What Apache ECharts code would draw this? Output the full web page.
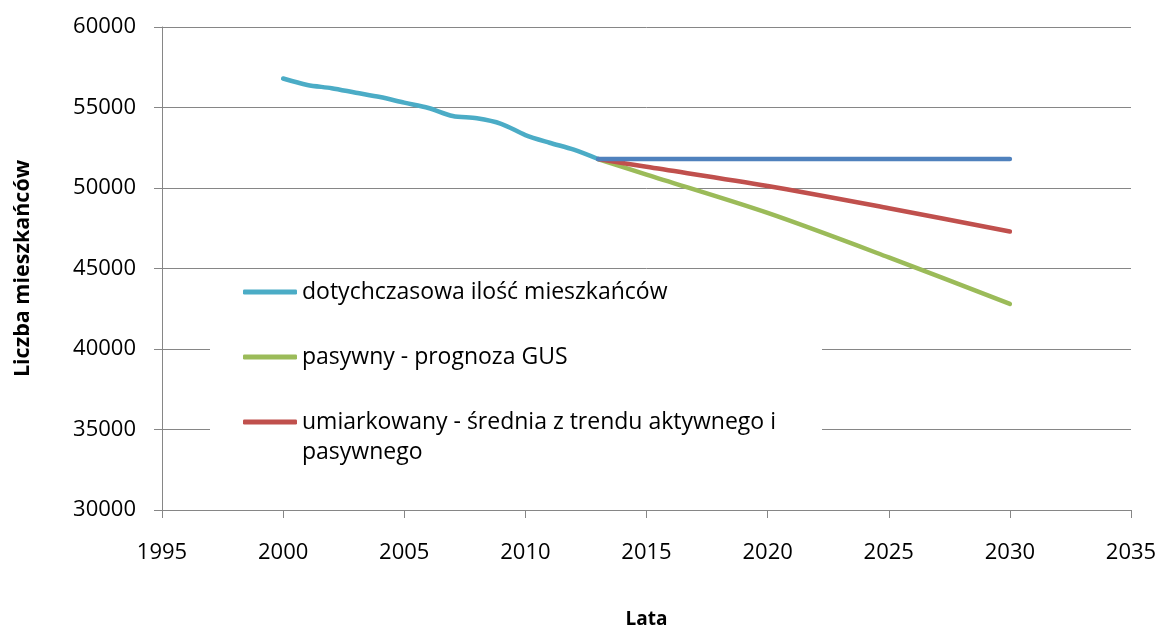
<!DOCTYPE html>
<html>
<head>
<meta charset="utf-8">
<title>Liczba mieszkańców</title>
<script src="https://cdn.jsdelivr.net/npm/echarts@6/dist/echarts.min.js"></script>
<style>
html, body { margin: 0; padding: 0; background: #fff; }
#chart { width: 1159px; height: 628px; }
</style>
</head>
<body>
<div id="chart"></div>
<script>
// lata i wartosci
var histYears = [2000, 2001, 2002, 2003, 2004, 2005, 2006, 2007, 2008, 2009, 2010, 2011, 2012, 2013];
var histValues = [56800, 56400, 56200, 55920, 55650, 55300, 54970, 54470, 54330, 53990, 53290, 52810, 52380, 51800];

var progYears = [2013, 2015, 2020, 2025, 2030];
var activeValues = [51800, 51800, 51800, 51800, 51800];
var passiveValues = [51800, 50830, 48450, 45690, 42800];
var moderateValues = [51800, 51315, 50125, 48745, 47300];

var seriesNames = [
    'dotychczasowa ilość mieszkańców',
    'pasywny - prognoza GUS',
    'umiarkowany - średnia z trendu aktywnego i pasywnego',
    'aktywny'
];
// tekst legendy: ostatni wpis zawija sie do drugiej linii
var legendLabels = [
    'dotychczasowa ilość mieszkańców',
    'pasywny - prognoza GUS',
    'umiarkowany - średnia z trendu aktywnego i'
];
var legendWrap = 'pasywnego';

function pairs(xs, ys) {
    return xs.map(function (x, i) { return [x, ys[i]]; });
}
function plain(v) {
    return String(v);
}

var FONT = '"Open Sans", sans-serif';
var myChart = echarts.init(document.getElementById('chart'));

myChart.setOption({
    animation: false,
    backgroundColor: '#fff',
    grid: {
        left: 162,
        right: 28,
        top: 27,
        bottom: 118,
        containLabel: false,
        outerBoundsMode: 'none'
    },
    graphic: [
        {
            type: 'rect',
            z: 1,
            shape: { x: 210, y: 273, width: 612, height: 197 },
            style: { fill: '#fff' }
        },
        {
            type: 'text',
            z: 6,
            left: 302,
            top: 441,
            style: { text: legendWrap, font: '23px ' + FONT, fill: '#000' }
        }
    ],
    legend: {
        orient: 'vertical',
        left: 243,
        top: 277,
        z: 5,
        padding: 0,
        itemGap: 35,
        itemWidth: 54,
        itemHeight: 5,
        icon: 'roundRect',
        data: seriesNames.slice(0, 3),
        formatter: function (name) {
            return legendLabels[seriesNames.indexOf(name)];
        },
        textStyle: {
            fontFamily: FONT,
            fontSize: 23,
            color: '#000',
            lineHeight: 30
        }
    },
    xAxis: {
        type: 'value',
        min: 1995,
        max: 2035,
        interval: 5,
        name: 'Lata',
        nameLocation: 'middle',
        nameGap: 100,
        nameTextStyle: { fontFamily: FONT, fontSize: 19, fontWeight: 'bold', color: '#000' },
        axisLine: { lineStyle: { color: '#868686', width: 1 } },
        axisTick: { show: true, inside: false, length: 8, lineStyle: { color: '#868686' } },
        axisLabel: { fontFamily: FONT, fontSize: 22, color: '#000', margin: 32, formatter: plain },
        splitLine: { show: false }
    },
    yAxis: {
        type: 'value',
        min: 30000,
        max: 60000,
        interval: 5000,
        name: 'Liczba mieszkańców',
        nameLocation: 'middle',
        nameGap: 128,
        nameTextStyle: { fontFamily: FONT, fontSize: 21.5, fontWeight: 'bold', color: '#000' },
        axisLine: { show: true, lineStyle: { color: '#868686', width: 1 } },
        axisTick: { show: true, inside: false, length: 8, lineStyle: { color: '#868686' } },
        axisLabel: { fontFamily: FONT, fontSize: 22, color: '#000', margin: 26, formatter: plain },
        splitLine: { show: true, lineStyle: { color: '#868686', width: 1 } }
    },
    series: [
        {
            name: seriesNames[0],
            type: 'line',
            data: pairs(histYears, histValues),
            showSymbol: false,
            smooth: 0.3,
            z: 3,
            color: '#4BACC6',
            lineStyle: { width: 4.5, cap: 'round', join: 'round' }
        },
        {
            name: seriesNames[1],
            type: 'line',
            data: pairs(progYears, passiveValues),
            showSymbol: false,
            smooth: 0.3,
            z: 2,
            color: '#9BBB59',
            lineStyle: { width: 4.5, cap: 'round', join: 'round' }
        },
        {
            name: seriesNames[2],
            type: 'line',
            data: pairs(progYears, moderateValues),
            showSymbol: false,
            smooth: 0.3,
            z: 2,
            color: '#C0504D',
            lineStyle: { width: 4.5, cap: 'round', join: 'round' }
        },
        {
            name: seriesNames[3],
            type: 'line',
            data: pairs(progYears, activeValues),
            showSymbol: false,
            smooth: 0.3,
            z: 4,
            color: '#4F81BD',
            lineStyle: { width: 4.5, cap: 'round', join: 'round' }
        }
    ]
});
</script>
</body>
</html>
